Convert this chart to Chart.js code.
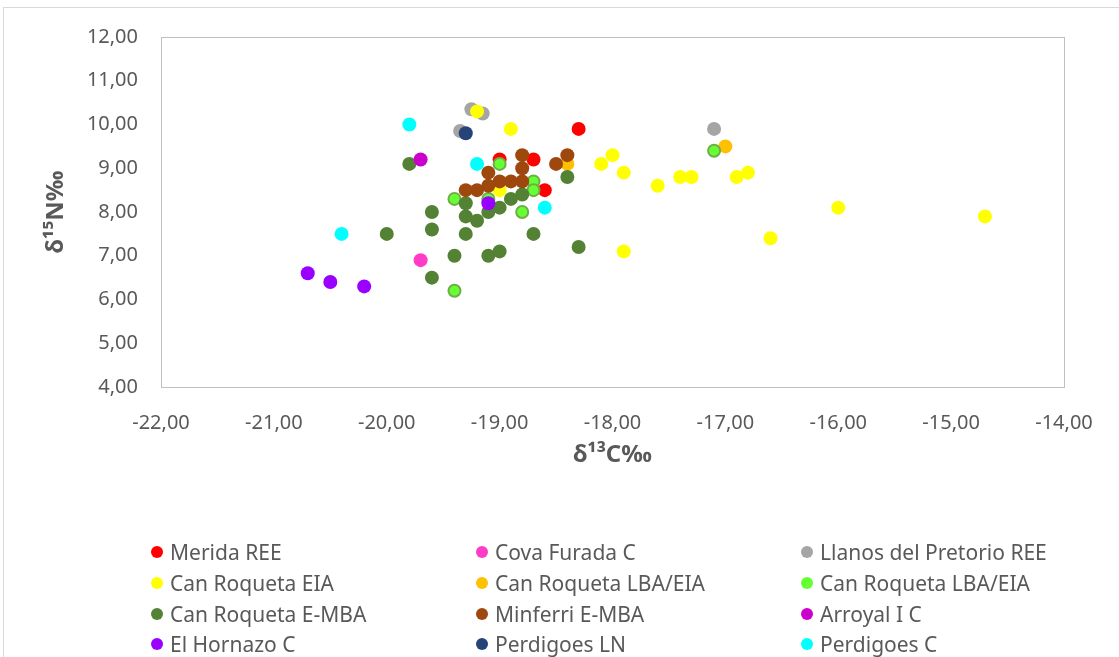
<!DOCTYPE html>
<html>
<head>
<meta charset="utf-8">
<script src="https://cdn.jsdelivr.net/npm/chart.js@4.4.0/dist/chart.umd.min.js"></script>
<style>
  html, body { margin: 0; padding: 0; background: #ffffff; }
  #wrap { position: relative; width: 1119px; height: 657px; overflow: hidden; font-family: "Noto Sans", "Open Sans", sans-serif; }
  #frame { position: absolute; left: 3px; top: 7px; width: 1130px; height: 700px; border: 1px solid #d9d9d9; box-sizing: border-box; }
  #chart { position: absolute; left: 0; top: 0; }
  #legend { position: absolute; left: 0; top: 0; width: 1119px; height: 657px; pointer-events: none; }
  .item { position: absolute; height: 30px; line-height: 30px; font-size: 21px; color: #595959; white-space: nowrap; }
  .dot { position: absolute; width: 12px; height: 12px; border-radius: 50%; top: 9px; left: 0; }
  .lab { position: absolute; left: 19px; top: 0; }
</style>
</head>
<body>
<div id="wrap">
  <div id="frame"></div>
  <canvas id="chart" width="1119" height="657"></canvas>
  <div id="legend"></div>
</div>
<script>
// ---- Data (δ13C ‰, δ15N ‰) ----
const meridaREE = [[-18.3, 9.9], [-19.0, 9.2], [-18.7, 9.2], [-18.6, 8.5]];
const covaFuradaC = [[-19.7, 6.9]];
const llanosPretorioREE = [[-19.25, 10.35], [-19.15, 10.25], [-19.35, 9.85], [-17.1, 9.9]];
const canRoquetaEIA = [[-19.2, 10.3], [-18.9, 9.9], [-19.0, 8.5], [-18.1, 9.1], [-18.0, 9.3], [-17.9, 8.9],
  [-17.6, 8.6], [-17.4, 8.8], [-17.3, 8.8], [-16.9, 8.8], [-16.8, 8.9], [-16.0, 8.1], [-14.7, 7.9],
  [-16.6, 7.4], [-17.9, 7.1]];
const canRoquetaLBAEIA_orange = [[-17.0, 9.5], [-18.4, 9.1]];
const canRoquetaLBAEIA_green = [[-17.1, 9.4], [-19.0, 9.1], [-18.7, 8.7], [-18.7, 8.5], [-19.4, 8.3],
  [-19.1, 8.3], [-18.8, 8.0], [-19.4, 6.2]];
const canRoquetaEMBA = [[-19.8, 9.1], [-19.3, 8.2], [-19.6, 8.0], [-19.3, 7.9], [-19.2, 7.8], [-20.0, 7.5],
  [-19.6, 7.6], [-19.3, 7.5], [-19.4, 7.0], [-19.6, 6.5], [-19.1, 8.0], [-19.0, 8.1], [-18.9, 8.3],
  [-18.8, 8.4], [-18.7, 7.5], [-19.1, 7.0], [-19.0, 7.1], [-18.3, 7.2], [-18.4, 8.8]];
const minferriEMBA = [[-18.8, 9.3], [-18.8, 9.0], [-18.8, 8.7], [-18.9, 8.7], [-19.0, 8.7], [-19.1, 8.9],
  [-19.1, 8.6], [-19.2, 8.5], [-19.3, 8.5], [-18.5, 9.1], [-18.4, 9.3]];
const arroyalIC = [[-19.7, 9.2]];
const elHornazoC = [[-20.7, 6.6], [-20.5, 6.4], [-20.2, 6.3], [-19.1, 8.2]];
const perdigoesLN = [[-19.3, 9.8]];
const perdigoesC = [[-19.8, 10.0], [-20.4, 7.5], [-19.2, 9.1], [-18.6, 8.1]];

const seriesNames = ["Merida REE", "Cova Furada C", "Llanos del Pretorio REE", "Can Roqueta EIA",
  "Can Roqueta LBA/EIA", "Can Roqueta LBA/EIA", "Can Roqueta E-MBA", "Minferri E-MBA", "Arroyal I C",
  "El Hornazo C", "Perdigoes LN", "Perdigoes C"];
const seriesData = [meridaREE, covaFuradaC, llanosPretorioREE, canRoquetaEIA, canRoquetaLBAEIA_orange,
  canRoquetaLBAEIA_green, canRoquetaEMBA, minferriEMBA, arroyalIC, elHornazoC, perdigoesLN, perdigoesC];
const seriesColors = ["#FF0000", "#FF3CC8", "#A5A5A5", "#FFFF00", "#FFC000", "#66FF33", "#548235",
  "#9E480E", "#CC00CC", "#9900FF", "#264478", "#00FFFF"];
const seriesBorders = [null, null, null, null, null, "#70AD47", null, null, null, null, null, null];

const xMin = -22, xMax = -14, yMin = 4, yMax = 12;
const xTitle = "δ¹³C‰";
const yTitle = "δ¹⁵N‰";

const fmt = v => Number(v).toFixed(2).replace('.', ',');
const tickColor = "#595959";
const fontFam = '"Noto Sans", "Open Sans", sans-serif';

const datasets = seriesData.map((pts, i) => ({
  label: seriesNames[i],
  data: pts.map(p => ({ x: p[0], y: p[1] })),
  backgroundColor: seriesColors[i],
  borderColor: seriesBorders[i] || seriesColors[i],
  borderWidth: seriesBorders[i] ? 2 : 0,
  pointRadius: seriesBorders[i] ? 6 : 7,
  pointHoverRadius: 7,
  order: -i
}));

const plotBorder = {
  id: 'plotBorder',
  beforeDatasetsDraw(chart) {
    const { ctx, chartArea: a } = chart;
    ctx.save();
    ctx.strokeStyle = '#bfbfbf';
    ctx.lineWidth = 1;
    ctx.strokeRect(Math.round(a.left) + 0.5, Math.round(a.top) + 0.5, Math.round(a.right - a.left), Math.round(a.bottom - a.top));
    ctx.restore();
  }
};

new Chart(document.getElementById('chart'), {
  type: 'scatter',
  data: { datasets },
  plugins: [plotBorder],
  options: {
    responsive: false,
    animation: false,
    layout: { padding: { left: 0, top: 37, right: 55, bottom: 187 } },
    plugins: { legend: { display: false }, tooltip: { enabled: false } },
    scales: {
      x: {
        type: 'linear', min: xMin, max: xMax,
        ticks: { stepSize: 1, color: tickColor, font: { family: fontFam, size: 20 }, padding: 24, callback: fmt, maxRotation: 0 },
        grid: { display: false, drawTicks: false },
        border: { display: false },
        title: { display: true, text: xTitle, color: tickColor, font: { family: fontFam, size: 24, weight: 'bold' }, padding: { top: 0, bottom: 0 } },
        afterFit(s) { s.height = 83; }
      },
      y: {
        type: 'linear', min: yMin, max: yMax,
        ticks: { stepSize: 1, color: tickColor, font: { family: fontFam, size: 20 }, padding: 23, callback: fmt },
        grid: { display: false, drawTicks: false },
        border: { display: false },
        title: { display: true, text: yTitle, color: tickColor, font: { family: fontFam, size: 24, weight: 'bold' }, padding: { top: 42, bottom: 0 } },
        afterFit(s) { s.width = 161; }
      }
    }
  }
});

// ---- HTML legend (3 columns, row-major like the original) ----
const legend = document.getElementById('legend');
const colX = [151, 476, 801];
const rowY = [537, 568, 599, 629];
seriesNames.forEach((name, i) => {
  const it = document.createElement('div');
  it.className = 'item';
  it.style.left = colX[i % 3] + 'px';
  it.style.top = rowY[Math.floor(i / 3)] + 'px';
  const d = document.createElement('span');
  d.className = 'dot';
  d.style.background = seriesColors[i];
  const t = document.createElement('span');
  t.className = 'lab';
  t.textContent = name;
  it.appendChild(d); it.appendChild(t);
  legend.appendChild(it);
});
</script>
</body>
</html>
